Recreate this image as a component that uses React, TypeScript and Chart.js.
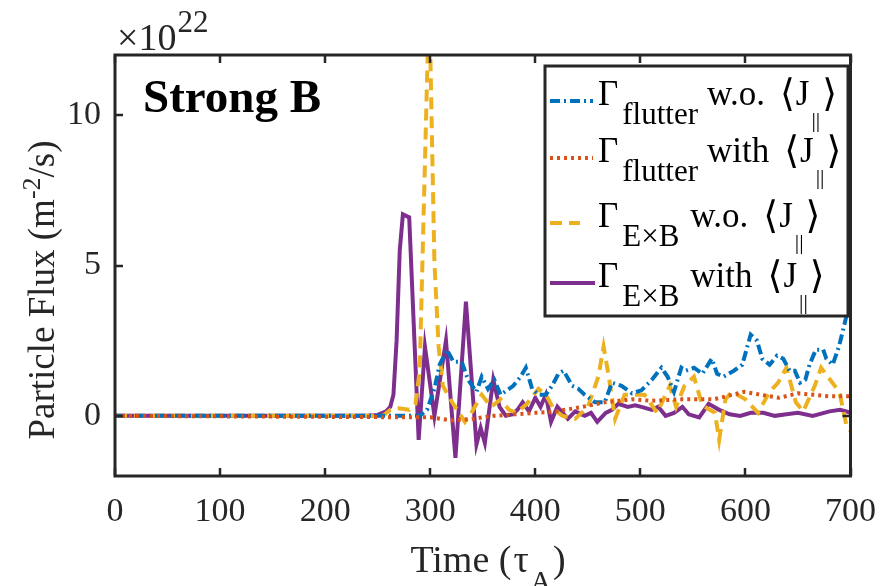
import React, { useEffect, useRef } from "react";
import { Chart, registerables } from "chart.js";

Chart.register(...registerables);

// ---- data (flux in units of 1e22 m^-2/s, time in tau_A) ----
const flutterWoTime = [0, 290, 297, 304, 309, 316, 322, 330, 336, 344, 349, 355, 361, 367, 379, 386, 391, 397, 403, 410, 416, 422, 427, 435, 441, 447, 457, 466, 473, 482, 492, 501, 511, 520, 526, 532, 539, 543, 551, 559, 568, 573, 579, 589, 597, 605, 611, 616, 623, 630, 636, 642, 647, 652, 657, 661, 667, 674, 677, 683, 689, 696, 700];
const flutterWoFlux = [0, 0, 0.2, 0.9, 1.7, 2.2, 1.8, 1.8, 1.2, 0.8, 1.3, 0.9, 1.2, 0.7, 1.0, 1.3, 1.6, 0.9, 0.7, 0.7, 1.0, 1.4, 1.5, 1.0, 0.9, 0.7, 0.45, 0.45, 1.1, 1.0, 0.75, 0.85, 1.2, 1.6, 1.3, 0.8, 1.6, 1.5, 1.6, 1.4, 1.9, 1.4, 1.3, 1.5, 1.7, 2.7, 2.5, 1.9, 1.7, 2.0, 1.9, 1.5, 1.5, 1.1, 1.2, 1.7, 2.2, 2.2, 1.9, 1.7, 2.3, 3.3, 3.9];

const flutterWithTime = [0, 300, 320, 340, 360, 380, 400, 420, 445, 466, 492, 510, 540, 570, 599, 615, 632, 650, 665, 680, 700];
const flutterWithFlux = [0, -0.05, -0.15, -0.1, 0, 0.05, 0.1, 0.15, 0.3, 0.45, 0.55, 0.5, 0.55, 0.55, 0.8, 0.7, 0.6, 0.75, 0.7, 0.65, 0.65];

const exbWoTime = [0, 255, 262, 270, 280, 286, 290, 299, 304, 308, 312, 320, 333, 340, 349, 358, 367, 375, 382, 392, 403, 410, 418, 426, 438, 450, 460, 465, 470, 476, 485, 495, 504, 516, 528, 534, 542, 551, 559, 571, 575, 581, 587, 600, 612, 623, 631, 639, 648, 655, 666, 672, 685, 690, 696, 700];
const exbWoFlux = [0, 0, 0.2, 0.25, 0.2, 0.4, 1.5, 14, 5.1, 2.3, 1.0, 0.5, -0.2, 0.15, 0.7, 0.3, 0.55, 0.2, 0.1, 0.4, 0.9, 0.7, 0.2, 0, -0.1, 0.3, 1.3, 2.3, 1.3, -0.1, 0.7, 0.7, 0.7, 0.1, 1.0, 0.3, 1.0, 1.3, 0.35, 0.1, -0.8, 0.55, 0.8, 0.55, 0.1, 0.8, 1.1, 1.6, 0.45, 0.15, 1.0, 1.6, 1.0, 0.7, -0.3, -0.5];

const exbWithTime = [0, 240, 250, 258, 262, 265, 268, 271, 274, 280, 289, 295, 304, 315, 324, 334, 344, 348, 352, 360, 366, 372, 378, 383, 388, 394, 400, 405, 410, 415, 421, 426, 431, 438, 447, 453, 459, 467, 473, 479, 488, 495, 501, 511, 517, 524, 532, 540, 546, 556, 565, 575, 585, 595, 605, 617, 628, 639, 650, 664, 680, 690, 696, 700];
const exbWithFlux = [0, 0, 0.03, 0.15, 0.3, 0.7, 2.5, 5.5, 6.7, 6.6, -0.8, 2.3, 0, 2.5, -1.4, 3.8, -0.95, -0.4, -0.9, 1.2, 0.3, 0, 0.05, 0.2, 0.45, 0.15, 0.6, 0.3, 0.7, -0.2, 0.3, 0.1, -0.1, 0.15, 0, 0.1, -0.2, 0.1, 0.2, 0.4, 0.3, 0.35, 0.3, 0.2, 0.3, 0, 0.1, 0.3, 0.05, -0.05, 0.4, 0.2, 0.05, 0, 0.1, 0.1, 0, 0.05, 0.1, 0, 0.15, 0.2, 0.15, 0.1];

const xTicks = [0, 100, 200, 300, 400, 500, 600, 700];
const yTicks = [0, 5, 10];
const seriesSubs = ["flutter", "flutter", "E\u00d7B", "E\u00d7B"];
const seriesWords = ["w.o.", "with", "w.o.", "with"];

const SERIF = '"Liberation Serif", "DejaVu Serif", serif';
const AXIS = "#262626";
const COLORS = ["#0072BD", "#D95319", "#EDB120", "#7E2F8E"];
const DASHES: number[][] = [[10, 4, 2, 4], [3, 4], [12, 7], []];

function pts(t: number[], v: number[]) {
  return t.map((x, i) => ({ x, y: v[i] }));
}

type Seg = { t: string; size: number; dy: number; bold?: boolean; gap?: number; family?: string };

function fontOf(s: Seg) {
  return `${s.bold ? "bold " : ""}${s.size}px ${s.family || SERIF}`;
}
function drawSegs(ctx: CanvasRenderingContext2D, x: number, y: number, segs: Seg[]) {
  let cx = x;
  for (const s of segs) {
    cx += s.gap || 0;
    ctx.font = fontOf(s);
    ctx.fillText(s.t, cx, y + s.dy);
    cx += ctx.measureText(s.t).width;
  }
  return cx;
}
function measureSegs(ctx: CanvasRenderingContext2D, segs: Seg[]) {
  let w = 0;
  for (const s of segs) {
    ctx.font = fontOf(s);
    w += ctx.measureText(s.t).width + (s.gap || 0);
  }
  return w;
}

const decorPlugin = {
  id: "decor",
  afterDraw(chart: any) {
    const ctx: CanvasRenderingContext2D = chart.ctx;
    const { left, right, top, bottom } = chart.chartArea;
    const xs = chart.scales.x;
    const ys = chart.scales.y;
    ctx.save();
    // frame
    ctx.strokeStyle = AXIS;
    ctx.lineWidth = 3;
    ctx.setLineDash([]);
    ctx.strokeRect(left, top, right - left, bottom - top);
    // ticks
    ctx.lineWidth = 2.5;
    const tl = 8;
    ctx.beginPath();
    for (const v of xTicks) {
      const px = Math.round(xs.getPixelForValue(v));
      ctx.moveTo(px, bottom);
      ctx.lineTo(px, bottom - tl);
      ctx.moveTo(px, top);
      ctx.lineTo(px, top + tl);
    }
    for (const v of yTicks) {
      const py = Math.round(ys.getPixelForValue(v));
      ctx.moveTo(left, py);
      ctx.lineTo(left + tl, py);
      ctx.moveTo(right, py);
      ctx.lineTo(right - tl, py);
    }
    ctx.stroke();

    // exponent label
    ctx.fillStyle = AXIS;
    ctx.textBaseline = "alphabetic";
    ctx.textAlign = "left";
    drawSegs(ctx, left + 2, top - 5, [
      { t: "\u00d710", size: 38, dy: 0 },
      { t: "22", size: 31, dy: -18, gap: 1 },
    ]);

    // x title
    const xt: Seg[] = [
      { t: "Time (", size: 38, dy: 0 },
      { t: "\u03c4", size: 38, dy: 0, gap: 2 },
      { t: "A", size: 28, dy: 18, gap: 2 },
      { t: ")", size: 38, dy: 0, gap: 2 },
    ];
    const xw = measureSegs(ctx, xt);
    drawSegs(ctx, 488 - xw / 2, 572, xt);

    // y title
    const yt: Seg[] = [
      { t: "Particle Flux (m", size: 37, dy: 0 },
      { t: "-2", size: 26, dy: -14 },
      { t: "/s)", size: 37, dy: 0 },
    ];
    const yw = measureSegs(ctx, yt);
    ctx.save();
    ctx.translate(54, 290);
    ctx.rotate(-Math.PI / 2);
    drawSegs(ctx, -yw / 2, 0, yt);
    ctx.restore();

    // panel label
    ctx.fillStyle = "#000";
    drawSegs(ctx, 143, 112, [{ t: "Strong B", size: 47, dy: 0, bold: true }]);

    // legend
    const bx = 545, by = 66, bw = 303, bh = 250;
    ctx.fillStyle = "#fff";
    ctx.fillRect(bx, by, bw, bh);
    ctx.strokeStyle = AXIS;
    ctx.lineWidth = 3;
    ctx.strokeRect(bx, by, bw, bh);
    const baselines = [105, 162, 227, 287];
    const sampleEnds = [593, 593, 580, 595];
    for (let i = 0; i < 4; i++) {
      const yb = baselines[i];
      ctx.strokeStyle = COLORS[i];
      ctx.lineWidth = 4;
      ctx.setLineDash(DASHES[i]);
      ctx.beginPath();
      ctx.moveTo(550, yb - 4);
      ctx.lineTo(sampleEnds[i], yb - 4);
      ctx.stroke();
      ctx.setLineDash([]);
      ctx.fillStyle = "#000";
      const exb = i >= 2;
      drawSegs(ctx, 598, yb, [
        { t: "\u0393", size: 35, dy: 0 },
        { t: seriesSubs[i], size: 31, dy: 19, gap: 4 },
        { t: seriesWords[i], size: 35, dy: 0, gap: exb ? 11 : 9 },
        { t: "\u27e8", size: 38, dy: 1, gap: 15, family: '"DejaVu Serif", serif' },
        { t: "J", size: 35, dy: 0, gap: 1 },
        { t: "||", size: 22, dy: 22, gap: 2 },
        { t: "\u27e9", size: 38, dy: 1, gap: 2, family: '"DejaVu Serif", serif' },
      ]);
    }
    ctx.restore();
  },
};

export default function App() {
  const ref = useRef<HTMLCanvasElement>(null);
  useEffect(() => {
    const canvas = ref.current!;
    const mk = (i: number, t: number[], v: number[]) => ({
      data: pts(t, v),
      borderColor: COLORS[i],
      backgroundColor: COLORS[i],
      borderWidth: 4,
      borderDash: DASHES[i],
      pointRadius: 0,
      tension: 0,
      fill: false,
    });
    const chart = new Chart(canvas, {
      type: "line",
      data: {
        datasets: [
          mk(1, flutterWithTime, flutterWithFlux),
          mk(0, flutterWoTime, flutterWoFlux),
          mk(2, exbWoTime, exbWoFlux),
          mk(3, exbWithTime, exbWithFlux),
        ],
      },
      options: {
        responsive: false,
        animation: false,
        devicePixelRatio: 1,
        layout: { padding: { left: 0, right: 34, top: 55, bottom: 0 } },
        plugins: { legend: { display: false }, tooltip: { enabled: false } },
        scales: {
          x: {
            type: "linear",
            min: 0,
            max: 700,
            afterBuildTicks: (s: any) => {
              s.ticks = xTicks.map((v) => ({ value: v }));
            },
            afterFit: (s: any) => {
              s.height = 110;
            },
            grid: { display: false, drawTicks: false },
            border: { display: false },
            ticks: {
              font: { family: SERIF, size: 34 },
              color: AXIS,
              padding: 16,
              maxRotation: 0,
              autoSkip: false,
            },
          },
          y: {
            type: "linear",
            min: -2,
            max: 12,
            afterBuildTicks: (s: any) => {
              s.ticks = yTicks.map((v) => ({ value: v }));
            },
            afterFit: (s: any) => {
              s.width = 115;
            },
            grid: { display: false, drawTicks: false },
            border: { display: false },
            ticks: {
              font: { family: SERIF, size: 34 },
              color: AXIS,
              padding: 14,
              autoSkip: false,
            },
          },
        },
      },
      plugins: [decorPlugin],
    } as any);
    return () => chart.destroy();
  }, []);
  return (
    <div style={{ position: "fixed", left: 0, top: 0, width: 892, height: 586, background: "#fff" }}>
      <canvas ref={ref} width={892} height={586} style={{ display: "block" }} />
    </div>
  );
}
